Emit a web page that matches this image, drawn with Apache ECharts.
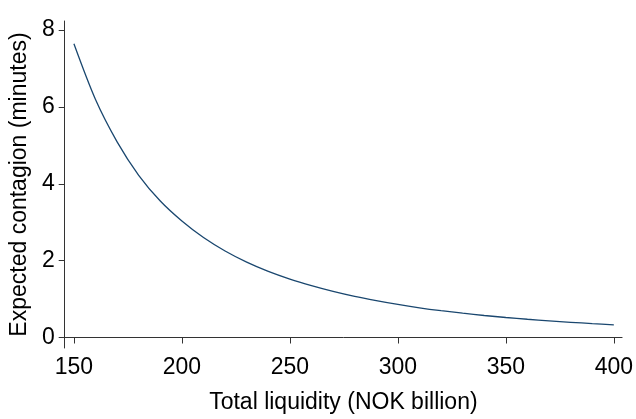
<!DOCTYPE html>
<html>
<head>
<meta charset="utf-8">
<script src="https://cdn.jsdelivr.net/npm/echarts@6/dist/echarts.min.js"></script>
<style>html,body{margin:0;padding:0;background:#fff}#c{width:636px;height:419px}</style>
</head>
<body>
<div id="c"></div>
<script>
var liquidity = [150,160,170,180,190,200,210,220,230,240,250,260,270,280,290,300,310,320,330,340,350,360,370,380,390,400];
var contagion = [7.64,6.19,5.09,4.22,3.55,3.03,2.60,2.25,1.96,1.72,1.52,1.35,1.20,1.07,0.96,0.86,0.773,0.698,0.632,0.573,0.521,0.475,0.434,0.396,0.362,0.331];
var xTicks = [150,200,250,300,350,400];
var yTicks = [0,2,4,6,8];

var font = '"Liberation Sans", Arial, sans-serif';
var chart = echarts.init(document.getElementById('c'), null, {renderer:'canvas'});
chart.setOption({
  animation: false,
  backgroundColor: '#fff',
  grid: {left: 63, right: 11, top: 21, bottom: 71, containLabel: false},
  xAxis: {
    type: 'value', min: 145.73, max: 403.81,
    name: 'Total liquidity (NOK billion)', nameLocation: 'middle', nameGap: 43,
    nameTextStyle: {fontFamily: font, fontSize: 23, color: '#000'},
    axisLine: {show: true, lineStyle: {color: '#333', width: 1}},
    axisTick: {show: true, length: 6, customValues: xTicks, lineStyle: {color: '#333'}},
    axisLabel: {customValues: xTicks, margin: 8, fontFamily: font, fontSize: 23, color: '#000'},
    splitLine: {show: false}
  },
  yAxis: {
    type: 'value', min: -0.273, max: 8.234,
    name: 'Expected contagion (minutes)', nameLocation: 'middle', nameGap: 30, nameRotate: 90,
    nameTextStyle: {fontFamily: font, fontSize: 23, color: '#000'},
    axisLine: {show: true, lineStyle: {color: '#333', width: 1}},
    axisTick: {show: true, length: 6, customValues: yTicks, lineStyle: {color: '#333'}},
    axisLabel: {customValues: yTicks, margin: 10, fontFamily: font, fontSize: 23, color: '#000'},
    splitLine: {show: false}
  },
  series: [{
    type: 'line',
    data: liquidity.map(function(x, i){ return [x, contagion[i]]; }),
    smooth: 0.3,
    showSymbol: false,
    lineStyle: {color: '#1a476f', width: 1.3}
  }]
});
</script>
</body>
</html>
